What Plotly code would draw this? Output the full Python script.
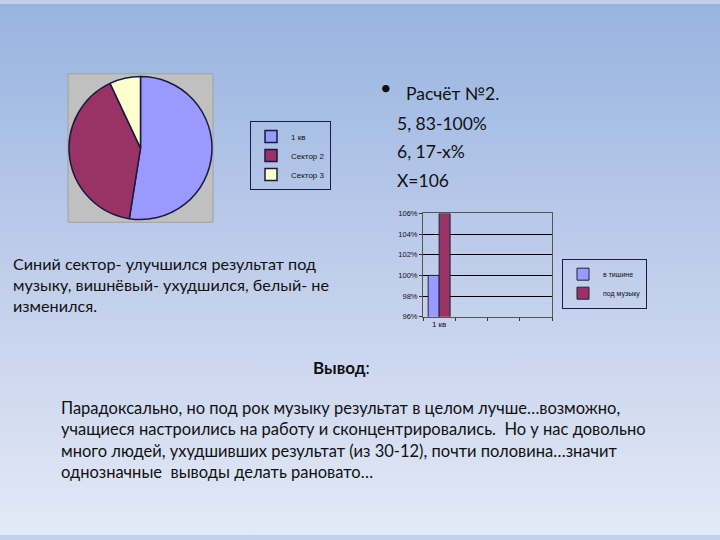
import base64
import plotly.graph_objects as go

# ---------------- data ----------------
pie_labels = ["1 кв", "Сектор 2", "Сектор 3"]
pie_values = [52.5, 40.5, 7.0]
pie_colors = ["#9999ff", "#993366", "#ffffcc"]

bar_categories = ["1 кв", "2 кв", "3 кв", "4 кв"]
bar_ticktext = ["1 кв", "", "", ""]
bar_series = ["в тишине", "под музыку"]
bar_values = [[100], [106]]
bar_colors = ["#9999ff", "#993366"]
bar_yticks = [96, 98, 100, 102, 104, 106]
bar_yticktext = ["96%", "98%", "100%", "102%", "104%", "106%"]

calc_lines = ["5, 83-100%", "6, 17-x%", "X=106"]
left_lines = ["Синий сектор- улучшился результат под",
              "музыку, вишнёвый- ухудшился, белый- не",
              "изменился."]
concl_lines = ["Парадоксально, но под рок музыку результат в целом лучше…возможно,",
               "учащиеся настроились на работу и сконцентрировались.  Но у нас довольно",
               "много людей, ухудшивших результат (из 30-12), почти половина…значит",
               "однозначные  выводы делать рановато…"]

W, H = 720, 540
def px(x): return x / W
def py(y): return 1 - y / H

fig = go.Figure()

# pie
fig.add_trace(go.Pie(
    labels=pie_labels, values=pie_values, sort=False, direction="clockwise",
    rotation=0, textinfo="none", hoverinfo="label+value",
    marker=dict(colors=pie_colors, line=dict(color="#1a1a40", width=1.5)),
    domain=dict(x=[px(69), px(212)], y=[py(221), py(72)]),
    legend="legend", showlegend=True,
))

# bars
for name, vals, col in zip(bar_series, bar_values, bar_colors):
    fig.add_trace(go.Bar(
        x=bar_categories[:len(vals)], y=vals, name=name,
        marker=dict(color=col, line=dict(color="#202040", width=1)),
        xaxis="x", yaxis="y", legend="legend2",
    ))

font_main = "Lato, 'Open Sans', sans-serif"

fig.update_layout(
    width=W, height=H,
    margin=dict(l=0, r=0, t=0, b=0),
    paper_bgcolor="#c2d0ec",
    plot_bgcolor="#c0c0c0",
    barmode="group", bargap=0.32, bargroupgap=0,
    xaxis=dict(domain=[px(423), px(552)], type="category",
               categoryorder="array", categoryarray=bar_categories,
               range=[-0.5, 3.5], tickmode="array",
               tickvals=bar_categories, ticktext=bar_ticktext,
               ticks="outside", tickson="boundaries", ticklen=3,
               tickcolor="#333", showgrid=False, showline=True,
               linecolor="#555", mirror=True,
               tickfont=dict(size=8, color="#111", family="Arial")),
    yaxis=dict(domain=[py(318), py(213)], range=[96, 106],
               tickmode="array", tickvals=bar_yticks, ticktext=bar_yticktext,
               ticks="outside", ticklen=3, tickcolor="#333",
               showgrid=True, gridcolor="#000", gridwidth=1,
               showline=True, linecolor="#555", mirror=True,
               zeroline=False,
               tickfont=dict(size=7.5, color="#111", family="Arial")),
    legend=dict(x=px(250), y=py(119), xanchor="left", yanchor="top",
                bgcolor="rgba(0,0,0,0)", bordercolor="#1a1a50", borderwidth=1,
                font=dict(size=8, family="Arial", color="#111"),
                itemwidth=30, tracegroupgap=0),
    legend2=dict(x=px(562), y=py(259), xanchor="left", yanchor="top",
                 bgcolor="rgba(0,0,0,0)", bordercolor="#1a1a50", borderwidth=1,
                 font=dict(size=7, family="Arial", color="#111"),
                 itemwidth=30, tracegroupgap=0),
)

# background gradient
svg = ('<svg xmlns="http://www.w3.org/2000/svg" width="720" height="540" preserveAspectRatio="none">'
       '<defs><linearGradient id="g" x1="0" y1="0" x2="0" y2="1">'
       '<stop offset="0" stop-color="#97b4e0"/>'
       '<stop offset="0.45" stop-color="#bccbea"/>'
       '<stop offset="1" stop-color="#e3e9f6"/>'
       '</linearGradient></defs><rect width="720" height="540" fill="url(#g)"/></svg>')
src = "data:image/svg+xml;base64," + base64.b64encode(svg.encode()).decode()
fig.add_layout_image(dict(source=src, xref="paper", yref="paper", x=0, y=1,
                          sizex=1, sizey=1, sizing="stretch", layer="below",
                          xanchor="left", yanchor="top"))

# gray pie background
fig.add_shape(type="rect", xref="paper", yref="paper",
              x0=px(68), x1=px(213), y0=py(222), y1=py(71),
              fillcolor="#c0c0c0", line=dict(color="#a0a0a0", width=1),
              layer="below")

def txt(x, y, s, size=16, anchor="left"):
    fig.add_annotation(x=px(x), y=py(y), xref="paper", yref="paper",
                       text=s, showarrow=False,
                       xanchor=anchor, yanchor="middle",
                       font=dict(size=size, family=font_main, color="#111"))

txt(378, 84, "•", size=20)
txt(404, 91, "Расчёт №2.", size=17.5)
for i, s in enumerate(calc_lines):
    txt(395, 122 + i * 28.5, s, size=17.5)
for i, s in enumerate(left_lines):
    txt(11, 264 + i * 21.5, s, size=16.2)
txt(311, 370, "<b>Вывод</b>:", size=17)
for i, s in enumerate(concl_lines):
    txt(59, 411 + i * 21.7, s, size=16.5)

fig.write_html("out.html",
               config={"displayModeBar": False},
               post_script="document.body.style.margin='0';"
                           "document.body.style.overflow='hidden';")
